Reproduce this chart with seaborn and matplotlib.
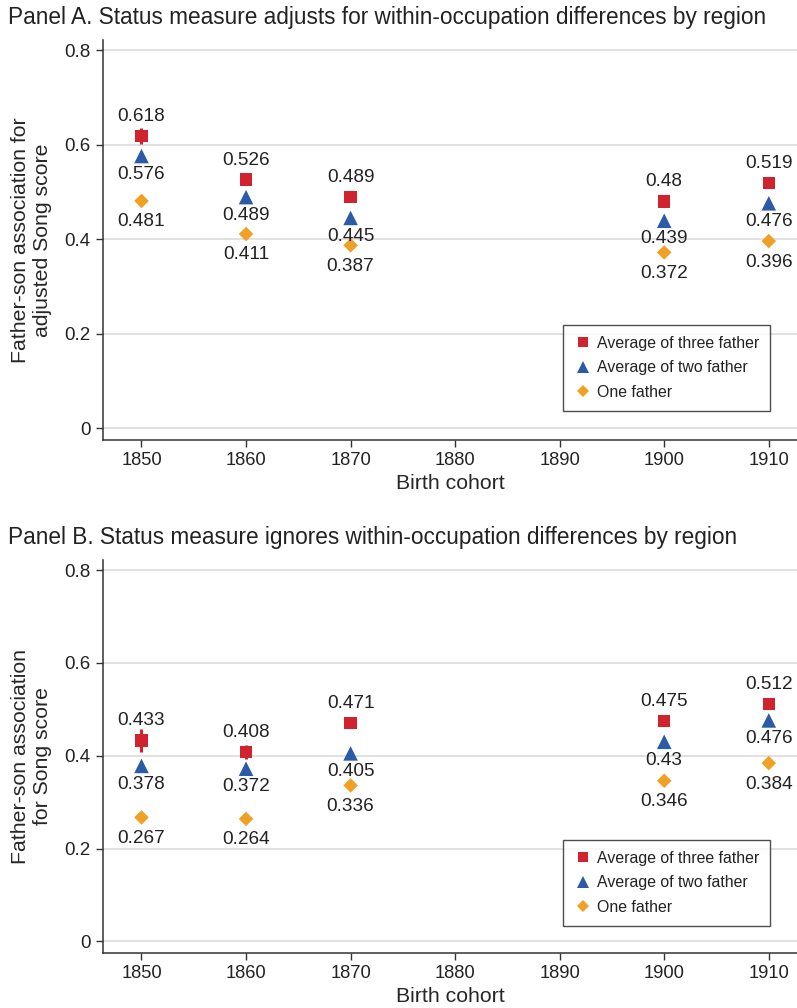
import matplotlib
matplotlib.use("Agg")
import matplotlib.pyplot as plt
import seaborn as sns
import pandas as pd

# Birth cohorts and estimated father-son associations
cohorts = [1850, 1860, 1870, 1900, 1910]
series_names = ["Average of three father", "Average of two father", "One father"]

a_three = [0.618, 0.526, 0.489, 0.48, 0.519]
a_two = [0.576, 0.489, 0.445, 0.439, 0.476]
a_one = [0.481, 0.411, 0.387, 0.372, 0.396]
a_three_ci = [0.017, 0.008, 0.005, 0.004, 0.004]

b_three = [0.433, 0.408, 0.471, 0.475, 0.512]
b_two = [0.378, 0.372, 0.405, 0.43, 0.476]
b_one = [0.267, 0.264, 0.336, 0.346, 0.384]
b_three_ci = [0.024, 0.016, 0.006, 0.005, 0.005]

x_ticks = [1850, 1860, 1870, 1880, 1890, 1900, 1910]
y_ticks = [0, 0.2, 0.4, 0.6, 0.8]
y_tick_labels = ["0", "0.2", "0.4", "0.6", "0.8"]

titles = [
    "Panel A. Status measure adjusts for within-occupation differences by region",
    "Panel B. Status measure ignores within-occupation differences by region",
]
ylabels = [
    "Father-son association for\nadjusted Song score",
    "Father-son association\nfor Song score",
]

colors = {series_names[0]: "#d0232e", series_names[1]: "#2b5ba6", series_names[2]: "#f0a125"}
markers = {series_names[0]: "s", series_names[1]: "^", series_names[2]: "D"}
sizes = {series_names[0]: 80, series_names[1]: 110, series_names[2]: 55}
# label placement: offset in points and vertical alignment
label_pos = {series_names[0]: (8, "bottom"), series_names[1]: (-7, "top"), series_names[2]: (-9, "top")}

sns.set_theme(style="white")
plt.rcParams["font.family"] = ["Liberation Sans", "DejaVu Sans"]
plt.rcParams["text.color"] = "#222222"


def long_frame(three, two, one):
    rows = []
    for name, vals in zip(series_names, [three, two, one]):
        for c, v in zip(cohorts, vals):
            rows.append({"cohort": c, "value": v, "series": name})
    return pd.DataFrame(rows)


fig = plt.figure(figsize=(7.97, 10.08), dpi=100)
ax_a = fig.add_axes([0.129, 0.5635, 0.871, 0.397])
ax_b = fig.add_axes([0.129, 0.0546, 0.871, 0.390])

panels = [
    (ax_a, long_frame(a_three, a_two, a_one), a_three, a_three_ci, 0.0725, 0.983),
    (ax_b, long_frame(b_three, b_two, b_one), b_three, b_three_ci, 0.069, 0.467),
]

for i, (ax, df, three, ci, leg_y, title_y) in enumerate(panels):
    ax.set_axisbelow(True)
    for yt in y_ticks:
        ax.axhline(yt, color="#d9d9d9", lw=1.1, zorder=0)
    ax.errorbar(cohorts, three, yerr=ci, fmt="none", ecolor=colors[series_names[0]],
                elinewidth=2.2, capsize=0, zorder=2)
    sns.scatterplot(data=df, x="cohort", y="value", hue="series", style="series",
                    palette=colors, markers=markers, size="series", sizes=sizes,
                    hue_order=series_names, style_order=series_names, size_order=series_names,
                    linewidth=0, ax=ax, zorder=3, legend=True)
    for _, r in df.iterrows():
        off, va = label_pos[r["series"]]
        ax.annotate(f"{r['value']:g}", (r["cohort"], r["value"]), xytext=(0, off),
                    textcoords="offset points", ha="center", va=va, fontsize=13.7,
                    color="#222222")
    ax.set_xlim(1846.3, 1912.7)
    ax.set_ylim(-0.025, 0.822)
    ax.set_xticks(x_ticks)
    ax.set_xticklabels([str(t) for t in x_ticks], fontsize=13.2)
    ax.set_yticks(y_ticks)
    ax.set_yticklabels(y_tick_labels, fontsize=13.5)
    ax.tick_params(axis="both", direction="out", length=5, width=1, color="#333333",
                   left=True, bottom=True, pad=4, labelcolor="#222222")
    for s in ["top", "right"]:
        ax.spines[s].set_visible(False)
    for s in ["left", "bottom"]:
        ax.spines[s].set_color("#333333")
        ax.spines[s].set_linewidth(1.1)
    ax.set_xlabel("Birth cohort", fontsize=15.3, labelpad=3)
    ax.set_ylabel(ylabels[i], fontsize=15.3, labelpad=9)
    handles, labels = ax.get_legend_handles_labels()
    ax.legend(handles, labels, loc="lower right", bbox_to_anchor=(0.961, leg_y),
              borderaxespad=0, frameon=True, fancybox=False, edgecolor="#222222",
              fontsize=11.4, handletextpad=0.25, handlelength=1.2, labelspacing=0.6,
              borderpad=0.7, markerscale=0.8)
    ax.get_legend().get_frame().set_linewidth(1.0)
    fig.text(0.01, title_y, titles[i], fontsize=16.3, ha="left", va="center",
             color="#222222")

fig.savefig("out.png", dpi=100)
